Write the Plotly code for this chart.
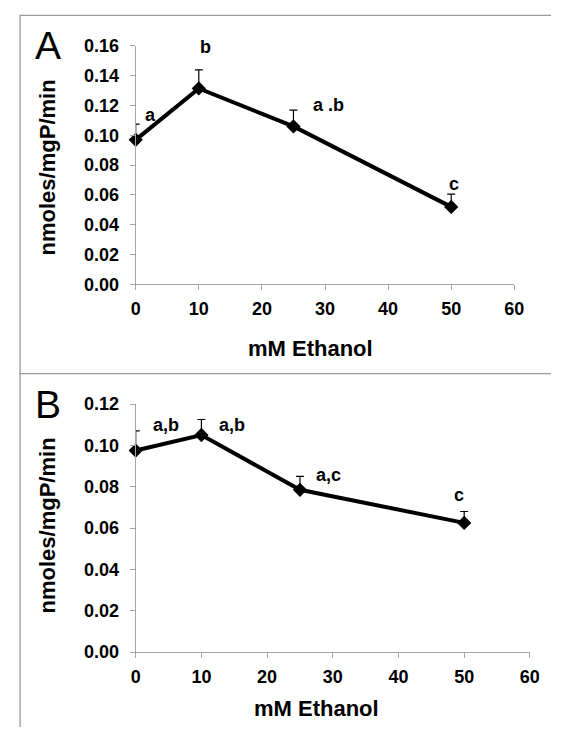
import plotly.graph_objects as go

# ---- data ----
ethanol_mM = [0, 10, 25, 50]
rate_A = [0.097, 0.1315, 0.106, 0.052]
err_A = [0.0105, 0.0125, 0.011, 0.0085]
labels_A = ["a", "b", "a .b", "c"]
label_pos_A_x = [2.4, 11.0, 30.5, 50.4]
label_pos_A_y = [0.1135, 0.159, 0.1205, 0.0675]

rate_B = [0.0975, 0.105, 0.0785, 0.0625]
err_B = [0.0095, 0.0075, 0.0065, 0.0055]
labels_B = ["a,b", "a,b", "a,c", "c"]
label_pos_B_x = [4.6, 14.6, 29.4, 49.2]
label_pos_B_y = [0.1098, 0.1098, 0.0858, 0.0762]

x_ticks = [0, 10, 20, 30, 40, 50, 60]
y_ticks_A = [0.00, 0.02, 0.04, 0.06, 0.08, 0.10, 0.12, 0.14, 0.16]
y_ticks_B = [0.00, 0.02, 0.04, 0.06, 0.08, 0.10, 0.12]

W, H = 561, 737
def px(x):
    return x / W
def py(y):
    return 1 - y / H

AXIS_GRAY = "#a6a6a6"
FONT = "Liberation Sans, Arial, sans-serif"

fig = go.Figure()
for vals, errs, xa, ya in [(rate_A, err_A, "x", "y"), (rate_B, err_B, "x2", "y2")]:
    fig.add_trace(go.Scatter(
        x=ethanol_mM, y=vals, mode="lines+markers",
        line=dict(color="black", width=4),
        marker=dict(symbol="diamond", size=11, color="black"),
        error_y=dict(type="data", symmetric=False, array=errs,
                     arrayminus=[0] * len(errs), color="black",
                     thickness=1.2, width=4),
        xaxis=xa, yaxis=ya, cliponaxis=False, showlegend=False,
    ))

axis_common = dict(
    showgrid=False, zeroline=False, showline=True, linecolor=AXIS_GRAY,
    linewidth=1, ticks="outside", ticklen=5, tickcolor=AXIS_GRAY,
    tickfont=dict(family=FONT, size=18, color="black", weight="bold"),
)

fig.update_layout(
    width=W, height=H, margin=dict(l=0, r=0, t=0, b=0),
    paper_bgcolor="white", plot_bgcolor="white",
    xaxis=dict(domain=[px(134.3), px(523.3)], range=[0, 60], tickvals=x_ticks,
               anchor="y", ticklabelstandoff=3, **axis_common),
    yaxis=dict(domain=[py(282), py(37)], range=[0, 0.16], tickvals=y_ticks_A,
               tickformat=".2f", anchor="x", ticklabelstandoff=7, **axis_common),
    xaxis2=dict(domain=[px(134.3), px(539.3)], range=[0, 60], tickvals=x_ticks,
                anchor="y2", ticklabelstandoff=3, **axis_common),
    yaxis2=dict(domain=[py(660), py(405)], range=[0, 0.12], tickvals=y_ticks_B,
                tickformat=".2f", anchor="x2", ticklabelstandoff=7, **axis_common),
)

anns = []
lab_font = dict(family=FONT, size=18, color="black", weight="bold")
for lx, ly, t in zip(label_pos_A_x, label_pos_A_y, labels_A):
    anns.append(dict(x=lx, y=ly, xref="x", yref="y", text=t, showarrow=False,
                     xanchor="center", yanchor="middle", font=lab_font))
for lx, ly, t in zip(label_pos_B_x, label_pos_B_y, labels_B):
    anns.append(dict(x=lx, y=ly, xref="x2", yref="y2", text=t, showarrow=False,
                     xanchor="center", yanchor="middle", font=lab_font))

title_font = dict(family=FONT, size=22, color="black", weight="bold")
for (tx, ty) in [(314, 348), (320, 718)]:
    anns.append(dict(x=px(tx), y=py(ty), xref="paper", yref="paper", text="mM Ethanol",
                     xanchor="center", yanchor="middle", showarrow=False, font=title_font))
for ty in [162, 530]:
    anns.append(dict(x=px(44), y=py(ty), xref="paper", yref="paper", text="nmoles/mgP/min",
                     textangle=-90, xanchor="center", yanchor="middle",
                     showarrow=False, font=title_font))
for t, ty in [("A", 36), ("B", 405.5)]:
    anns.append(dict(x=px(44), y=py(ty), xref="paper", yref="paper", text=t,
                     xanchor="center", yanchor="middle", showarrow=False,
                     font=dict(family=FONT, size=39, color="black")))
fig.update_layout(annotations=anns)

BORDER = "#999999"
fig.update_layout(shapes=[
    dict(type="line", xref="paper", yref="paper", x0=px(15), x1=1, y0=py(5.5), y1=py(5.5),
         line=dict(color=BORDER, width=1.3)),
    dict(type="line", xref="paper", yref="paper", x0=px(15.5), x1=px(15.5), y0=py(5.5), y1=0,
         line=dict(color=BORDER, width=1.3)),
    dict(type="line", xref="paper", yref="paper", x0=px(15), x1=1, y0=py(373.7), y1=py(373.7),
         line=dict(color=BORDER, width=1.3)),
])

fig.write_html("out.html")
